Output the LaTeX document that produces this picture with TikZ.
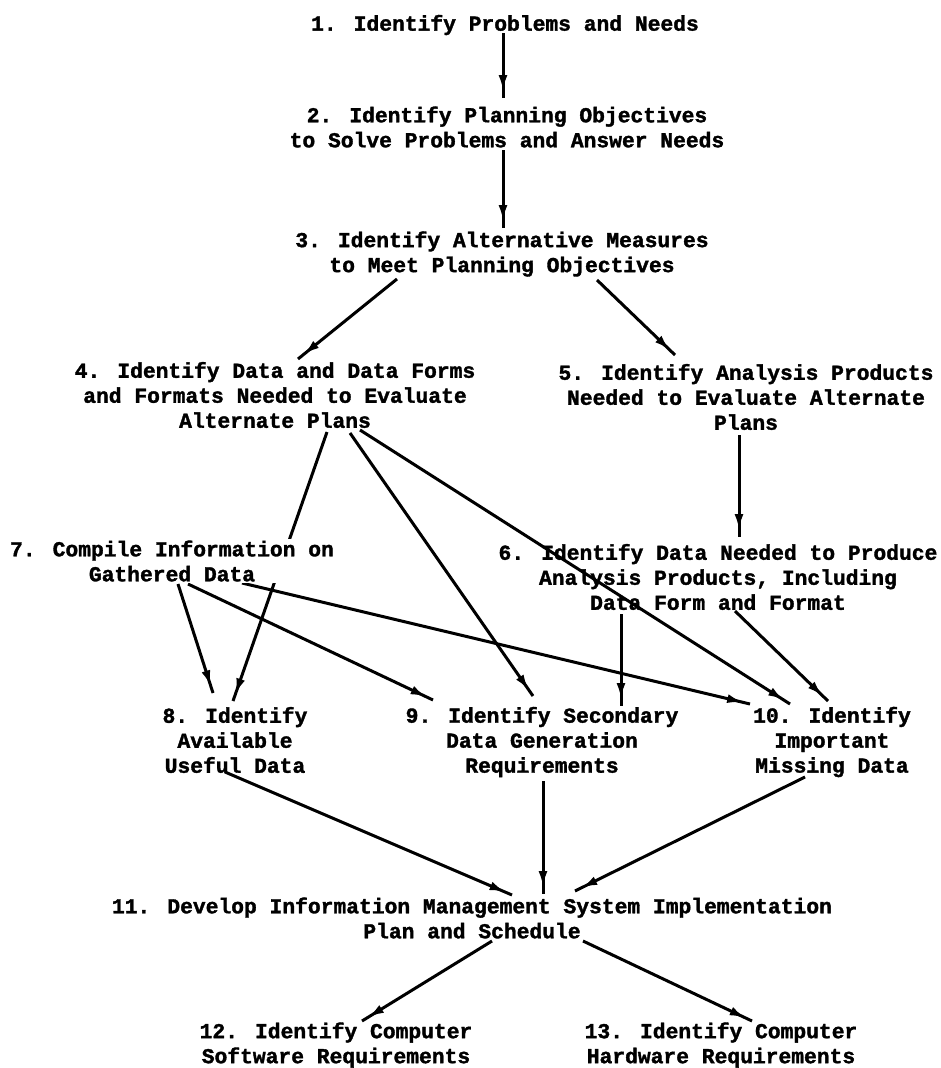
\documentclass[tikz,border=0pt]{standalone}
\usepackage{fontspec}
\newfontfamily\typewr[FakeBold=1.6]{Liberation Mono Bold}
\usetikzlibrary{arrows.meta,decorations.markings,backgrounds}
\tikzset{
  lbl/.style={font=\fontsize{21.3}{25}\selectfont\typewr, align=center, inner sep=0pt},
  conn/.style={line width=3pt, postaction={decorate},
    decoration={markings, mark=at position -7pt with {\arrow{Latex[length=16pt,width=9pt]}}}},
}
\begin{document}
\begin{tikzpicture}[x=1pt,y=-1pt]
\useasboundingbox (0,0) rectangle (941,1068);
\node[lbl] (n1) at (505,25) {1. Identify Problems and Needs};
\node[lbl] (n2) at (507,127) {2. Identify Planning Objectives\\to Solve Problems and Answer Needs};
\node[lbl] (n3) at (502,254) {3. Identify Alternative Measures\\to Meet Planning Objectives};
\node[lbl] (n4) at (275,395) {4. Identify Data and Data Forms\\and Formats Needed to Evaluate\\Alternate Plans};
\node[lbl] (n5) at (746,397) {5. Identify Analysis Products\\Needed to Evaluate Alternate\\Plans};
\node[lbl] (n6) at (718,577) {6. Identify Data Needed to Produce\\Analysis Products, Including\\Data Form and Format};
\node[lbl, fill=white, inner sep=2pt] (n7) at (172,561) {7. Compile Information on\\Gathered Data};
\node[lbl] (n8) at (235,740) {8. Identify\\Available\\Useful Data};
\node[lbl] (n9) at (542,742) {9. Identify Secondary\\Data Generation\\Requirements};
\node[lbl] (n10) at (832,742) {10. Identify\\Important\\Missing Data};
\node[lbl] (n11) at (472,918) {11. Develop Information Management System Implementation\\Plan and Schedule};
\node[lbl] (n12) at (336,1045) {12. Identify Computer\\Software Requirements};
\node[lbl] (n13) at (721,1045) {13. Identify Computer\\Hardware Requirements};
\begin{pgfonlayer}{background}
\draw[conn] ([shift={(-2,8)}]n1.center) -- ([shift={(-4,-29)}]n2.center);
\draw[conn] ([shift={(-4,23)}]n2.center) -- ([shift={(1,-26)}]n3.center);
\draw[conn] ([shift={(-105,25)}]n3.center) -- ([shift={(23,-36)}]n4.center);
\draw[conn] ([shift={(95,26)}]n3.center) -- ([shift={(-71,-42)}]n5.center);
\draw[conn] ([shift={(-7,38)}]n5.center) -- ([shift={(21,-40)}]n6.center);
\draw[conn] ([shift={(52,37)}]n4.center) -- ([shift={(-2,-39)}]n8.center);
\draw[conn] ([shift={(75,38)}]n4.center) -- ([shift={(-9,-46)}]n9.center);
\draw[conn] ([shift={(85,35)}]n4.center) -- ([shift={(-42,-38)}]n10.center);
\draw[conn] ([shift={(6,23)}]n7.center) -- ([shift={(-22,-47)}]n8.center);
\draw[conn] ([shift={(16,23)}]n7.center) -- ([shift={(-109,-42)}]n9.center);
\draw[conn] ([shift={(70,22)}]n7.center) -- ([shift={(-82,-38)}]n10.center);
\draw[conn] ([shift={(-97,37)}]n6.center) -- ([shift={(79,-36)}]n9.center);
\draw[conn] ([shift={(17,34)}]n6.center) -- ([shift={(-4,-41)}]n10.center);
\draw[conn] ([shift={(-10,32)}]n8.center) -- ([shift={(40,-23)}]n11.center);
\draw[conn] ([shift={(1,39)}]n9.center) -- ([shift={(71,-24)}]n11.center);
\draw[conn] ([shift={(-27,35)}]n10.center) -- ([shift={(103,-27)}]n11.center);
\draw[conn] ([shift={(20,23)}]n11.center) -- ([shift={(26,-24)}]n12.center);
\draw[conn] ([shift={(111,23)}]n11.center) -- ([shift={(31,-24)}]n13.center);
\end{pgfonlayer}
\end{tikzpicture}
\end{document}
